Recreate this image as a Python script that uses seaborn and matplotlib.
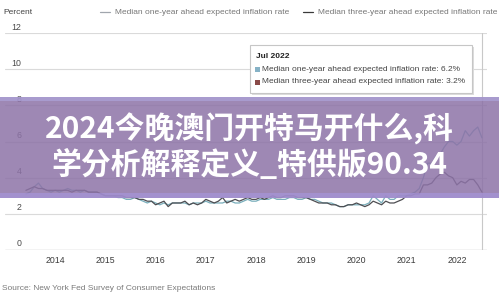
import numpy as np
import pandas as pd
import matplotlib
matplotlib.use("Agg")
import matplotlib.pyplot as plt
import seaborn as sns
from matplotlib.patches import Rectangle
from matplotlib.lines import Line2D
import matplotlib.transforms as mtransforms

# ---------------- data ----------------
months = pd.date_range("2013-06-01", "2022-07-01", freq="MS")
one_year = [
    3.1, 3.2, 3.5, 3.7, 3.4, 3.3, 3.2,
    3.3, 3.2, 3.3, 3.4, 3.3, 3.3, 3.2, 3.3, 3.2, 3.2, 3.2, 3.1,
    3.0, 3.0, 3.0, 2.9, 2.9, 2.8, 2.8, 2.9, 2.8, 2.7, 2.6, 2.7,
    2.6, 2.5, 2.6, 2.5, 2.6, 2.6, 2.6, 2.6, 2.5, 2.6, 2.6, 2.6,
    2.7, 2.6, 2.6, 2.6, 2.6, 2.7, 2.7, 2.6, 2.6, 2.7, 2.8, 2.7,
    2.7, 2.8, 2.8, 2.8, 2.9, 2.8, 2.8, 2.8, 2.9, 2.9, 2.8, 2.8,
    2.9, 2.8, 2.8, 2.7, 2.6, 2.6, 2.6, 2.5, 2.4, 2.4, 2.5, 2.5,
    2.5, 2.5, 2.5, 2.6, 3.0, 2.8, 2.6, 3.0, 2.8, 2.8, 3.0, 3.0,
    3.0, 3.1, 3.2, 3.4, 4.0, 4.8, 4.8, 5.2, 5.3, 5.7, 6.0, 6.0,
    5.8, 6.0, 6.6, 6.3, 6.6, 6.8, 6.2,
]
three_year = [
    3.3, 3.4, 3.5, 3.4, 3.4, 3.3, 3.3,
    3.3, 3.3, 3.3, 3.3, 3.2, 3.3, 3.3, 3.3, 3.2, 3.2, 3.2, 3.1,
    3.0, 3.0, 3.0, 3.0, 3.0, 2.9, 2.9, 2.9, 2.8, 2.8, 2.7, 2.7,
    2.5, 2.6, 2.7, 2.4, 2.6, 2.6, 2.6, 2.7, 2.5, 2.6, 2.5, 2.6,
    2.8, 2.7, 2.6, 2.7, 2.9, 2.6, 2.7, 2.8, 2.7, 2.8, 2.9, 2.8,
    2.8, 2.9, 2.8, 2.9, 3.0, 2.9, 2.9, 3.0, 3.0, 3.0, 2.9, 2.9,
    2.9, 2.8, 2.7, 2.6, 2.6, 2.6, 2.5, 2.5, 2.4, 2.4, 2.5, 2.5,
    2.6, 2.5, 2.4, 2.5, 2.7, 2.6, 2.5, 2.7, 2.6, 2.6, 2.7, 2.8,
    3.0, 3.0, 3.1, 3.1, 3.6, 3.6, 3.7, 4.0, 4.2, 4.3, 4.1, 4.0,
    3.6, 3.8, 3.7, 3.9, 3.9, 3.6, 3.2,
]
series_names = ["Median one-year ahead expected inflation rate",
                "Median three-year ahead expected inflation rate"]
year_ticks = list(range(2014, 2023))
y_ticks = [0, 2, 4, 6, 8, 10, 12]
tooltip_title = "Jul 2022"
tooltip_values = ["6.2%", "3.2%"]
title_lines = ["2024今晚澳门开特马开什么,科", "学分析解释定义_特供版90.34"]
source_text = "Source: New York Fed Survey of Consumer Expectations"

# ---------------- style ----------------
sns.set_theme(style="white")
plt.rcParams["font.family"] = ["Liberation Sans", "Noto Sans CJK SC", "DejaVu Sans"]

W, H = 499, 296
fig = plt.figure(figsize=(W / 100, H / 100), dpi=100)
fig.patch.set_facecolor("white")


def fx(px):
    return px / W


def fy(py):
    return 1 - py / H


ax = fig.add_axes([fx(5), fy(250), 482 / W, 217 / H])
ax.set_facecolor("white")

t = months.year + (months.month - 1) / 12.0
n = len(t)
df = pd.DataFrame({
    "t": np.concatenate([t, t]),
    "v": one_year + three_year,
    "s": [series_names[0]] * n + [series_names[1]] * n,
})
line_colors = {series_names[0]: "#79aebb", series_names[1]: "#4e4e52"}
sns.lineplot(data=df, x="t", y="v", hue="s", palette=line_colors,
             linewidth=0.9, legend=False, ax=ax, zorder=3)

ax.set_xlim(2013.0, 2022.6)
ax.set_ylim(0, 12)
for sp in ax.spines.values():
    sp.set_visible(False)
for yv in y_ticks[1:]:
    ax.axhline(yv, color="#dadada", lw=0.8, zorder=1)
ax.axhline(0, color="#c4c4c4", lw=1.0, zorder=2)
ax.axvline(t[-1], color="#c8c8c8", lw=0.8, zorder=2)

ax.set_xticks(year_ticks)
ax.set_xticklabels([str(y) for y in year_ticks])
ax.tick_params(axis="x", direction="in", length=4, width=0.8, color="#c4c4c4",
               pad=4.5, labelsize=6.3, labelcolor="#3c3c3c")
ax.set_yticks([])
ax.set_xlabel("")
ax.set_ylabel("")

ytrans = mtransforms.blended_transform_factory(ax.transAxes, ax.transData)
ytrans = mtransforms.offset_copy(ytrans, fig=fig, x=0, y=1.5, units="dots")
for yv in y_ticks:
    ax.text((21.5 - 5) / 482, yv, str(yv), transform=ytrans, ha="right", va="bottom",
            fontsize=6.3, color="#4a4a4a")

# ---------------- header legend ----------------
fig.text(fx(3), fy(12), "Percent", fontsize=6, color="#444444", va="center", ha="left")
leg_pos = [(100, 115), (303, 318)]
leg_line_cols = ["#a0a6ad", "#3a3a3a"]
for (lx, tx), name, lc in zip(leg_pos, series_names, leg_line_cols):
    fig.add_artist(Line2D([fx(lx), fx(lx + 10)], [fy(12), fy(12)], color=lc, lw=0.9,
                          transform=fig.transFigure))
    fig.text(fx(tx), fy(12), name, fontsize=6, color="#777777", va="center", ha="left")

# ---------------- tooltip ----------------
fig.add_artist(Rectangle((fx(251.5), fy(94.5)), 222 / W, 48 / H, transform=fig.transFigure,
                         facecolor="#dddddd", edgecolor="none", zorder=4))
fig.add_artist(Rectangle((fx(250), fy(93)), 222 / W, 48 / H, transform=fig.transFigure,
                         facecolor="white", edgecolor="#c6c6c6", lw=0.8, zorder=4))
fig.text(fx(256), fy(57), tooltip_title, fontsize=6, fontweight="bold", color="#222222",
         va="center", ha="left", zorder=5)
sq_cols = ["#86b2c6", "#8a4a48"]
for i, (name, val, sc) in enumerate(zip(series_names, tooltip_values, sq_cols)):
    yy = 69.5 + i * 12.5
    fig.add_artist(Rectangle((fx(255), fy(yy + 2.5)), 5 / W, 5 / H, transform=fig.transFigure,
                             facecolor=sc, edgecolor="none", zorder=5))
    fig.text(fx(262), fy(yy), f"{name}: {val}", fontsize=6, color="#444444",
             va="center", ha="left", zorder=5)

# ---------------- banner overlay ----------------
fig.add_artist(Rectangle((0, fy(198)), 1, 101 / H, transform=fig.transFigure,
                         facecolor="#8d73a7", alpha=0.85, edgecolor="none", zorder=6))
fig.add_artist(Rectangle((0, fy(101)), 1, 4 / H, transform=fig.transFigure,
                         facecolor="#b0a8e0", alpha=0.6, edgecolor="none", zorder=6))
fig.add_artist(Rectangle((0, fy(198)), 1, 5 / H, transform=fig.transFigure,
                         facecolor="#a898e0", alpha=0.6, edgecolor="none", zorder=6))
for line, yc in zip(title_lines, [129, 164]):
    fig.text(fx(249), fy(yc), line, fontsize=21.5, fontweight="bold", color="white",
             family=["Noto Sans CJK SC", "DejaVu Sans"], ha="center", va="center", zorder=7)

# ---------------- source ----------------
fig.text(fx(2), fy(289), source_text, fontsize=6, color="#7a7a7a", va="center", ha="left")

fig.savefig("out.png", dpi=100, facecolor="white")
